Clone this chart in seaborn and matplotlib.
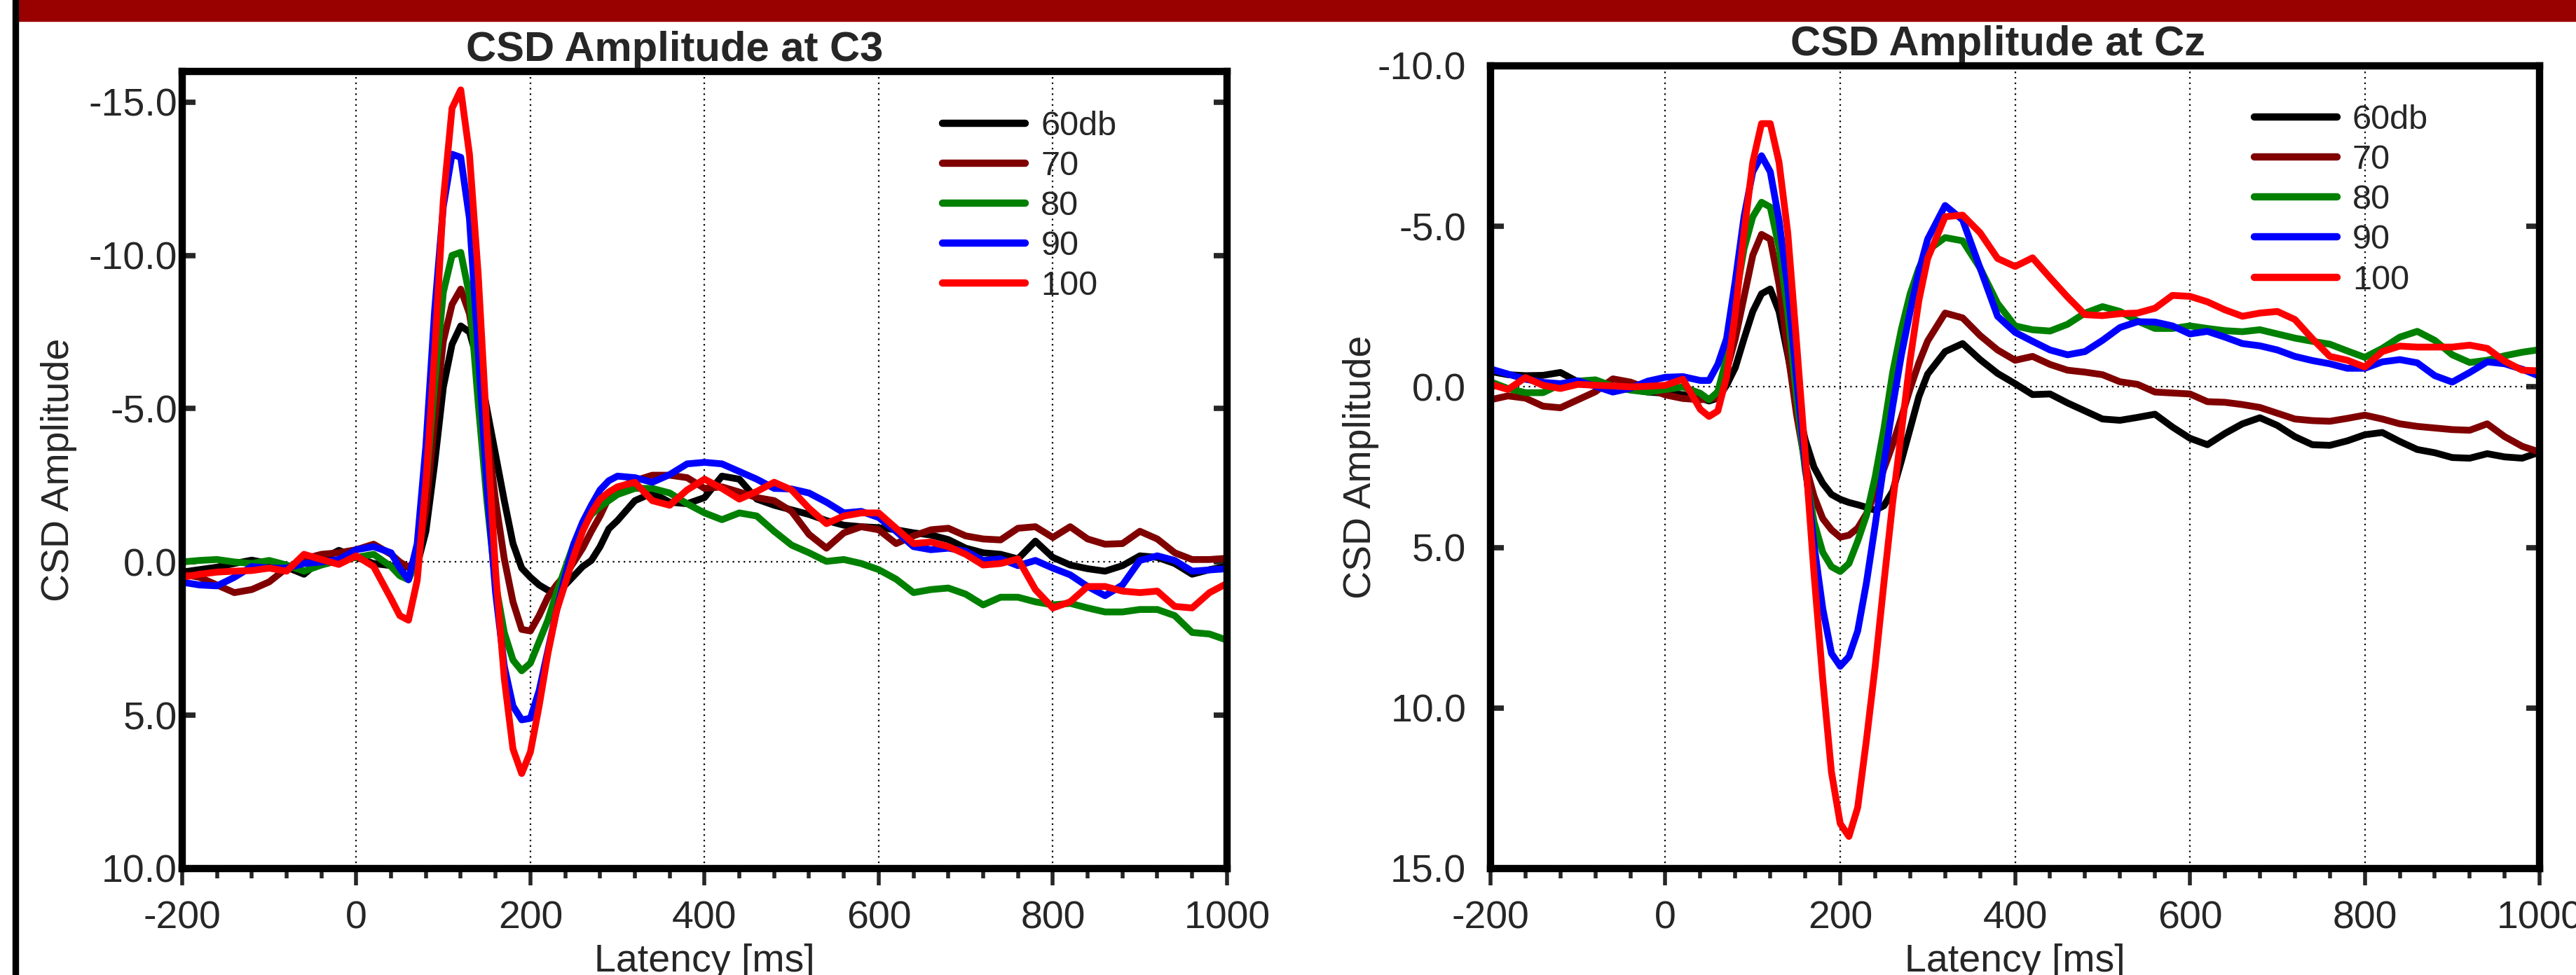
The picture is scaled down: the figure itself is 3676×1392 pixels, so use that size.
import pandas as pd
import matplotlib
matplotlib.use("Agg")
import matplotlib.pyplot as plt
import seaborn as sns
from matplotlib.ticker import MultipleLocator, FormatStrFormatter
from matplotlib.patches import Rectangle
from matplotlib.lines import Line2D

# latency grid (ms): 20 ms steps, 10 ms steps around the N1/P2 complex
latency = (list(range(-200, 41, 20)) + list(range(50, 301, 10))
           + list(range(320, 1001, 20)))

levels = ['60db', '70', '80', '90', '100']
colors = ['#000000', '#800000', '#008000', '#0000ff', '#ff0000']

# ---- CSD at C3 ----
c3_60 = [0.33, 0.25, 0.17, 0.05, -0.06, 0.05, 0.17, 0.4, -0.08, -0.38, -0.15, 0.05, 0.12,
         0.17, 0.17, 0.1, -1.0, -3.2, -5.7, -7.1, -7.7, -7.5, -6.5, -5.0, -3.5, -2.0, -0.6,
         0.2, 0.5, 0.75, 0.92, 1.0, 0.75, 0.45, 0.15, -0.05, -0.5, -1.08, -1.35,
         -2.0, -2.25, -1.95, -1.9, -2.1, -2.8, -2.7, -2.05, -1.85, -1.7, -1.55, -1.35, -1.2,
         -1.15, -1.12, -1.05, -0.95, -0.88, -0.73, -0.45, -0.3, -0.25, -0.1, -0.68, -0.15,
         0.1, 0.22, 0.3, 0.12, -0.2, -0.15, 0.05, 0.4, 0.25, 0.14]
c3_70 = [0.4, 0.5, 0.75, 1.0, 0.9, 0.65, 0.2, -0.1, -0.25, -0.3, -0.4, -0.58, -0.25,
         0.0, 0.17, -0.1, -1.7, -4.6, -7.2, -8.4, -8.9, -8.1, -6.3, -4.3, -2.0, -0.1, 1.3,
         2.2, 2.25, 1.75, 1.15, 0.75, 0.42, 0.0, -0.45, -1.0, -1.5, -2.1, -2.4,
         -2.65, -2.83, -2.83, -2.75, -2.4, -2.45, -2.28, -2.1, -2.0, -1.65, -0.9, -0.45, -0.95,
         -1.15, -1.05, -0.6, -0.85, -1.05, -1.1, -0.85, -0.75, -0.72, -1.1, -1.15, -0.8,
         -1.15, -0.75, -0.58, -0.6, -1.0, -0.75, -0.3, -0.08, -0.08, -0.12]
c3_80 = [0.0, -0.05, -0.08, 0.0, 0.05, -0.05, 0.1, 0.3, 0.1, -0.05, -0.15, -0.25, 0.15,
         0.45, 0.58, -0.1, -2.5, -5.8, -8.8, -10.0, -10.1, -8.7, -5.2, -2.0, 0.7, 2.3, 3.2,
         3.55, 3.3, 2.6, 1.9, 1.0, 0.2, -0.6, -1.1, -1.55, -1.8, -2.0, -2.2,
         -2.4, -2.4, -2.25, -1.9, -1.6, -1.38, -1.6, -1.5, -1.0, -0.55, -0.3, -0.02, -0.08,
         0.05, 0.25, 0.56, 1.0, 0.9, 0.85, 1.05, 1.4, 1.15, 1.15, 1.3, 1.4,
         1.35, 1.5, 1.63, 1.63, 1.55, 1.55, 1.75, 2.3, 2.35, 2.55]
c3_90 = [0.66, 0.75, 0.78, 0.5, 0.15, 0.2, 0.2, 0.05, 0.0, -0.08, -0.4, -0.5, -0.3,
         0.2, 0.58, -0.6, -3.8, -8.2, -11.6, -13.3, -13.2, -11.2, -6.9, -2.5, 1.0, 3.4, 4.7,
         5.15, 5.1, 4.2, 2.9, 1.6, 0.45, -0.6, -1.3, -1.85, -2.35, -2.65, -2.8,
         -2.75, -2.6, -2.85, -3.2, -3.25, -3.2, -2.95, -2.7, -2.4, -2.38, -2.25, -1.95, -1.6,
         -1.65, -1.45, -1.0, -0.5, -0.4, -0.45, -0.35, -0.05, -0.1, 0.12, -0.05, 0.2,
         0.42, 0.8, 1.1, 0.75, -0.05, -0.2, -0.05, 0.3, 0.26, 0.22]
c3_100 = [0.5, 0.4, 0.33, 0.3, 0.28, 0.2, 0.3, -0.25, -0.08, 0.08, -0.2, 0.15, 1.2,
          1.75, 1.9, 0.6, -2.6, -6.8, -11.8, -14.8, -15.4, -13.3, -9.4, -4.3, 0.3, 3.8, 6.1,
          6.9, 6.2, 4.7, 3.0, 1.6, 0.7, -0.2, -1.0, -1.6, -2.05, -2.28, -2.45,
          -2.6, -2.0, -1.85, -2.35, -2.7, -2.4, -2.05, -2.3, -2.6, -2.35, -1.75, -1.25, -1.5,
          -1.6, -1.6, -1.1, -0.6, -0.65, -0.5, -0.25, 0.1, 0.05, -0.1, 0.9, 1.5,
          1.3, 0.8, 0.8, 0.95, 1.0, 0.95, 1.45, 1.5, 1.0, 0.7]

# ---- CSD at Cz ----
cz_60 = [-0.48, -0.38, -0.35, -0.36, -0.45, -0.16, -0.08, 0.0, 0.08, 0.16, 0.2, 0.24, 0.35,
         0.44, 0.35, -0.05, -0.6, -1.5, -2.35, -2.9, -3.05, -2.35, -1.0, 0.45, 1.65, 2.5, 3.0,
         3.35, 3.5, 3.6, 3.67, 3.75, 3.84, 3.7, 3.25, 2.3, 1.3, 0.3, -0.4,
         -1.1, -1.35, -0.85, -0.42, -0.1, 0.24, 0.22, 0.5, 0.75, 1.0, 1.04, 0.95, 0.85,
         1.25, 1.6, 1.8, 1.45, 1.15, 0.96, 1.2, 1.55, 1.8, 1.82, 1.68, 1.49,
         1.42, 1.7, 1.95, 2.05, 2.2, 2.22, 2.08, 2.18, 2.22, 2.03]
cz_70 = [0.4, 0.28, 0.35, 0.6, 0.65, 0.4, 0.15, -0.25, -0.15, 0.05, 0.25, 0.36, 0.4,
         0.38, 0.32, -0.5, -1.5, -2.8, -4.1, -4.75, -4.6, -3.2, -1.1, 0.85, 2.4, 3.4, 4.1,
         4.45, 4.68, 4.62, 4.4, 3.95, 3.3, 2.55, 1.8, 0.95, 0.05, -0.75, -1.43,
         -2.3, -2.15, -1.6, -1.15, -0.83, -0.95, -0.7, -0.52, -0.46, -0.38, -0.16, -0.08, 0.16,
         0.19, 0.22, 0.46, 0.48, 0.55, 0.64, 0.82, 1.0, 1.05, 1.07, 0.98, 0.88,
         1.0, 1.15, 1.23, 1.28, 1.33, 1.35, 1.15, 1.55, 1.85, 2.03]
cz_80 = [-0.16, 0.05, 0.18, 0.18, -0.08, -0.18, -0.22, -0.02, 0.1, 0.16, 0.08, 0.0, 0.2,
         0.4, 0.15, -0.9, -2.7, -4.3, -5.3, -5.75, -5.6, -4.35, -2.3, 0.3, 2.6, 4.2, 5.15,
         5.6, 5.75, 5.5, 4.8, 4.0, 2.8, 1.3, -0.45, -1.8, -2.9, -3.7, -4.25,
         -4.65, -4.55, -3.7, -2.6, -1.9, -1.78, -1.74, -1.95, -2.3, -2.5, -2.35, -2.05, -1.82,
         -1.82, -1.9, -1.82, -1.75, -1.72, -1.78, -1.65, -1.52, -1.42, -1.33, -1.12, -0.92,
         -1.2, -1.55, -1.73, -1.45, -1.0, -0.76, -0.83, -0.97, -1.08, -1.16]
cz_90 = [-0.56, -0.4, -0.24, -0.14, -0.1, -0.19, -0.02, 0.16, 0.04, -0.18, -0.3, -0.32, -0.2,
         -0.2, -0.7, -1.5, -3.3, -5.3, -6.7, -7.2, -6.7, -5.2, -3.1, -0.3, 2.4, 4.9, 6.9,
         8.3, 8.7, 8.4, 7.6, 6.1, 4.3, 2.4, 0.6, -1.0, -2.35, -3.6, -4.6,
         -5.65, -5.2, -3.7, -2.2, -1.7, -1.42, -1.15, -1.0, -1.1, -1.45, -1.85, -2.03, -2.02,
         -1.9, -1.65, -1.73, -1.55, -1.35, -1.28, -1.15, -0.95, -0.82, -0.72, -0.58, -0.58,
         -0.78, -0.85, -0.75, -0.35, -0.15, -0.45, -0.78, -0.72, -0.55, -0.33]
cz_100 = [-0.08, 0.08, -0.29, -0.05, 0.05, -0.08, -0.05, -0.03, 0.0, -0.02, -0.05, -0.24, 0.7,
          0.92, 0.75, -0.3, -2.3, -4.8, -7.0, -8.2, -8.2, -7.0, -4.8, -1.4, 2.1, 5.8, 9.1,
          12.0, 13.6, 14.0, 13.1, 11.0, 8.7, 6.1, 3.6, 1.4, -0.85, -2.7, -4.0,
          -5.3, -5.35, -4.8, -4.0, -3.75, -4.02, -3.4, -2.8, -2.25, -2.22, -2.28, -2.3, -2.45,
          -2.85, -2.82, -2.65, -2.4, -2.2, -2.3, -2.35, -2.1, -1.5, -0.95, -0.83, -0.62,
          -1.1, -1.27, -1.24, -1.24, -1.24, -1.3, -1.2, -0.8, -0.52, -0.5]


def long_form(series):
    frames = [pd.DataFrame({'latency': latency, 'amp': vals, 'level': lev})
              for lev, vals in zip(levels, series)]
    return pd.concat(frames, ignore_index=True)


df_c3 = long_form([c3_60, c3_70, c3_80, c3_90, c3_100])
df_cz = long_form([cz_60, cz_70, cz_80, cz_90, cz_100])

sns.set_style('white')
plt.rcParams['font.family'] = ['Liberation Sans', 'DejaVu Sans']
plt.rcParams['axes.unicode_minus'] = False

fig = plt.figure(figsize=(36.76, 13.92), dpi=100)
ax1 = fig.add_axes([0.0707, 0.1092, 0.4056, 0.8175])
ax2 = fig.add_axes([0.5786, 0.1092, 0.4073, 0.8233])

# header band and left frame line
fig.add_artist(Rectangle((23 / 3676, 1 - 30 / 1392), 1, 30 / 1392,
                         transform=fig.transFigure, color='#990000', zorder=0))
fig.add_artist(Rectangle((18 / 3676, 0), 8 / 3676, 1,
                         transform=fig.transFigure, color='black', zorder=0))

# ax, data, title, title x, ylim, yticks, ytick pad, title pad, ylabel x, xlabel y, legend y
panels = [
    (ax1, df_c3, 'CSD Amplitude at C3', 0.4715, (10, -16), [-15, -10, -5, 0, 5, 10],
     5, 11, -0.1006, -0.094, 0.951),
    (ax2, df_cz, 'CSD Amplitude at Cz', 0.4836, (15, -10), [-10, -5, 0, 5, 10, 15],
     25, 11, -0.106, -0.0934, 0.952),
]

for ax, df, title, tx, ylim, yticks, ypad, tpad, ylab_x, xlab_y, leg_y in panels:
    sns.lineplot(data=df, x='latency', y='amp', hue='level', hue_order=levels,
                 palette=dict(zip(levels, colors)), linewidth=7, legend=False,
                 ax=ax, zorder=3)

    # dotted guides
    ax.axhline(0, color='black', lw=1.6, ls=(0, (1, 2.5)), zorder=1)
    for xg in [0, 200, 400, 600, 800]:
        ax.axvline(xg, color='black', lw=1.6, ls=(0, (1, 2.5)), zorder=1)

    ax.set_xlim(-200, 1000)
    ax.set_ylim(*ylim)
    ax.xaxis.set_major_locator(MultipleLocator(200))
    ax.xaxis.set_minor_locator(MultipleLocator(40))
    ax.set_yticks(yticks)
    ax.yaxis.set_major_formatter(FormatStrFormatter('%.1f'))

    ax.tick_params(axis='x', which='major', direction='out', length=17, width=4,
                   pad=16, labelsize=40, bottom=True, top=False)
    ax.tick_params(axis='x', which='minor', direction='out', length=10, width=4,
                   bottom=True, top=False)
    ax.tick_params(axis='y', which='major', direction='in', length=14, width=5.5,
                   pad=ypad, labelsize=40, left=True, right=True)

    for sp in ax.spines.values():
        sp.set_linewidth(7.5)
        sp.set_color('black')
        sp.set_zorder(5)

    ax.set_title(title, fontsize=43, fontweight='bold', pad=tpad, x=tx)
    ax.set_xlabel('Latency [ms]', fontsize=40)
    ax.set_ylabel('CSD Amplitude', fontsize=40)
    ax.xaxis.set_label_coords(0.5, xlab_y)
    ax.yaxis.set_label_coords(ylab_x, 0.5)

    handles = [Line2D([], [], color=c, lw=7.5, solid_capstyle='round') for c in colors]
    ax.legend(handles, levels, loc='upper left', bbox_to_anchor=(0.728, leg_y),
              frameon=False, fontsize=35, handlelength=2.43, handletextpad=0.45,
              labelspacing=0.25, borderpad=0, borderaxespad=0)

fig.savefig('out.png', dpi=100)
